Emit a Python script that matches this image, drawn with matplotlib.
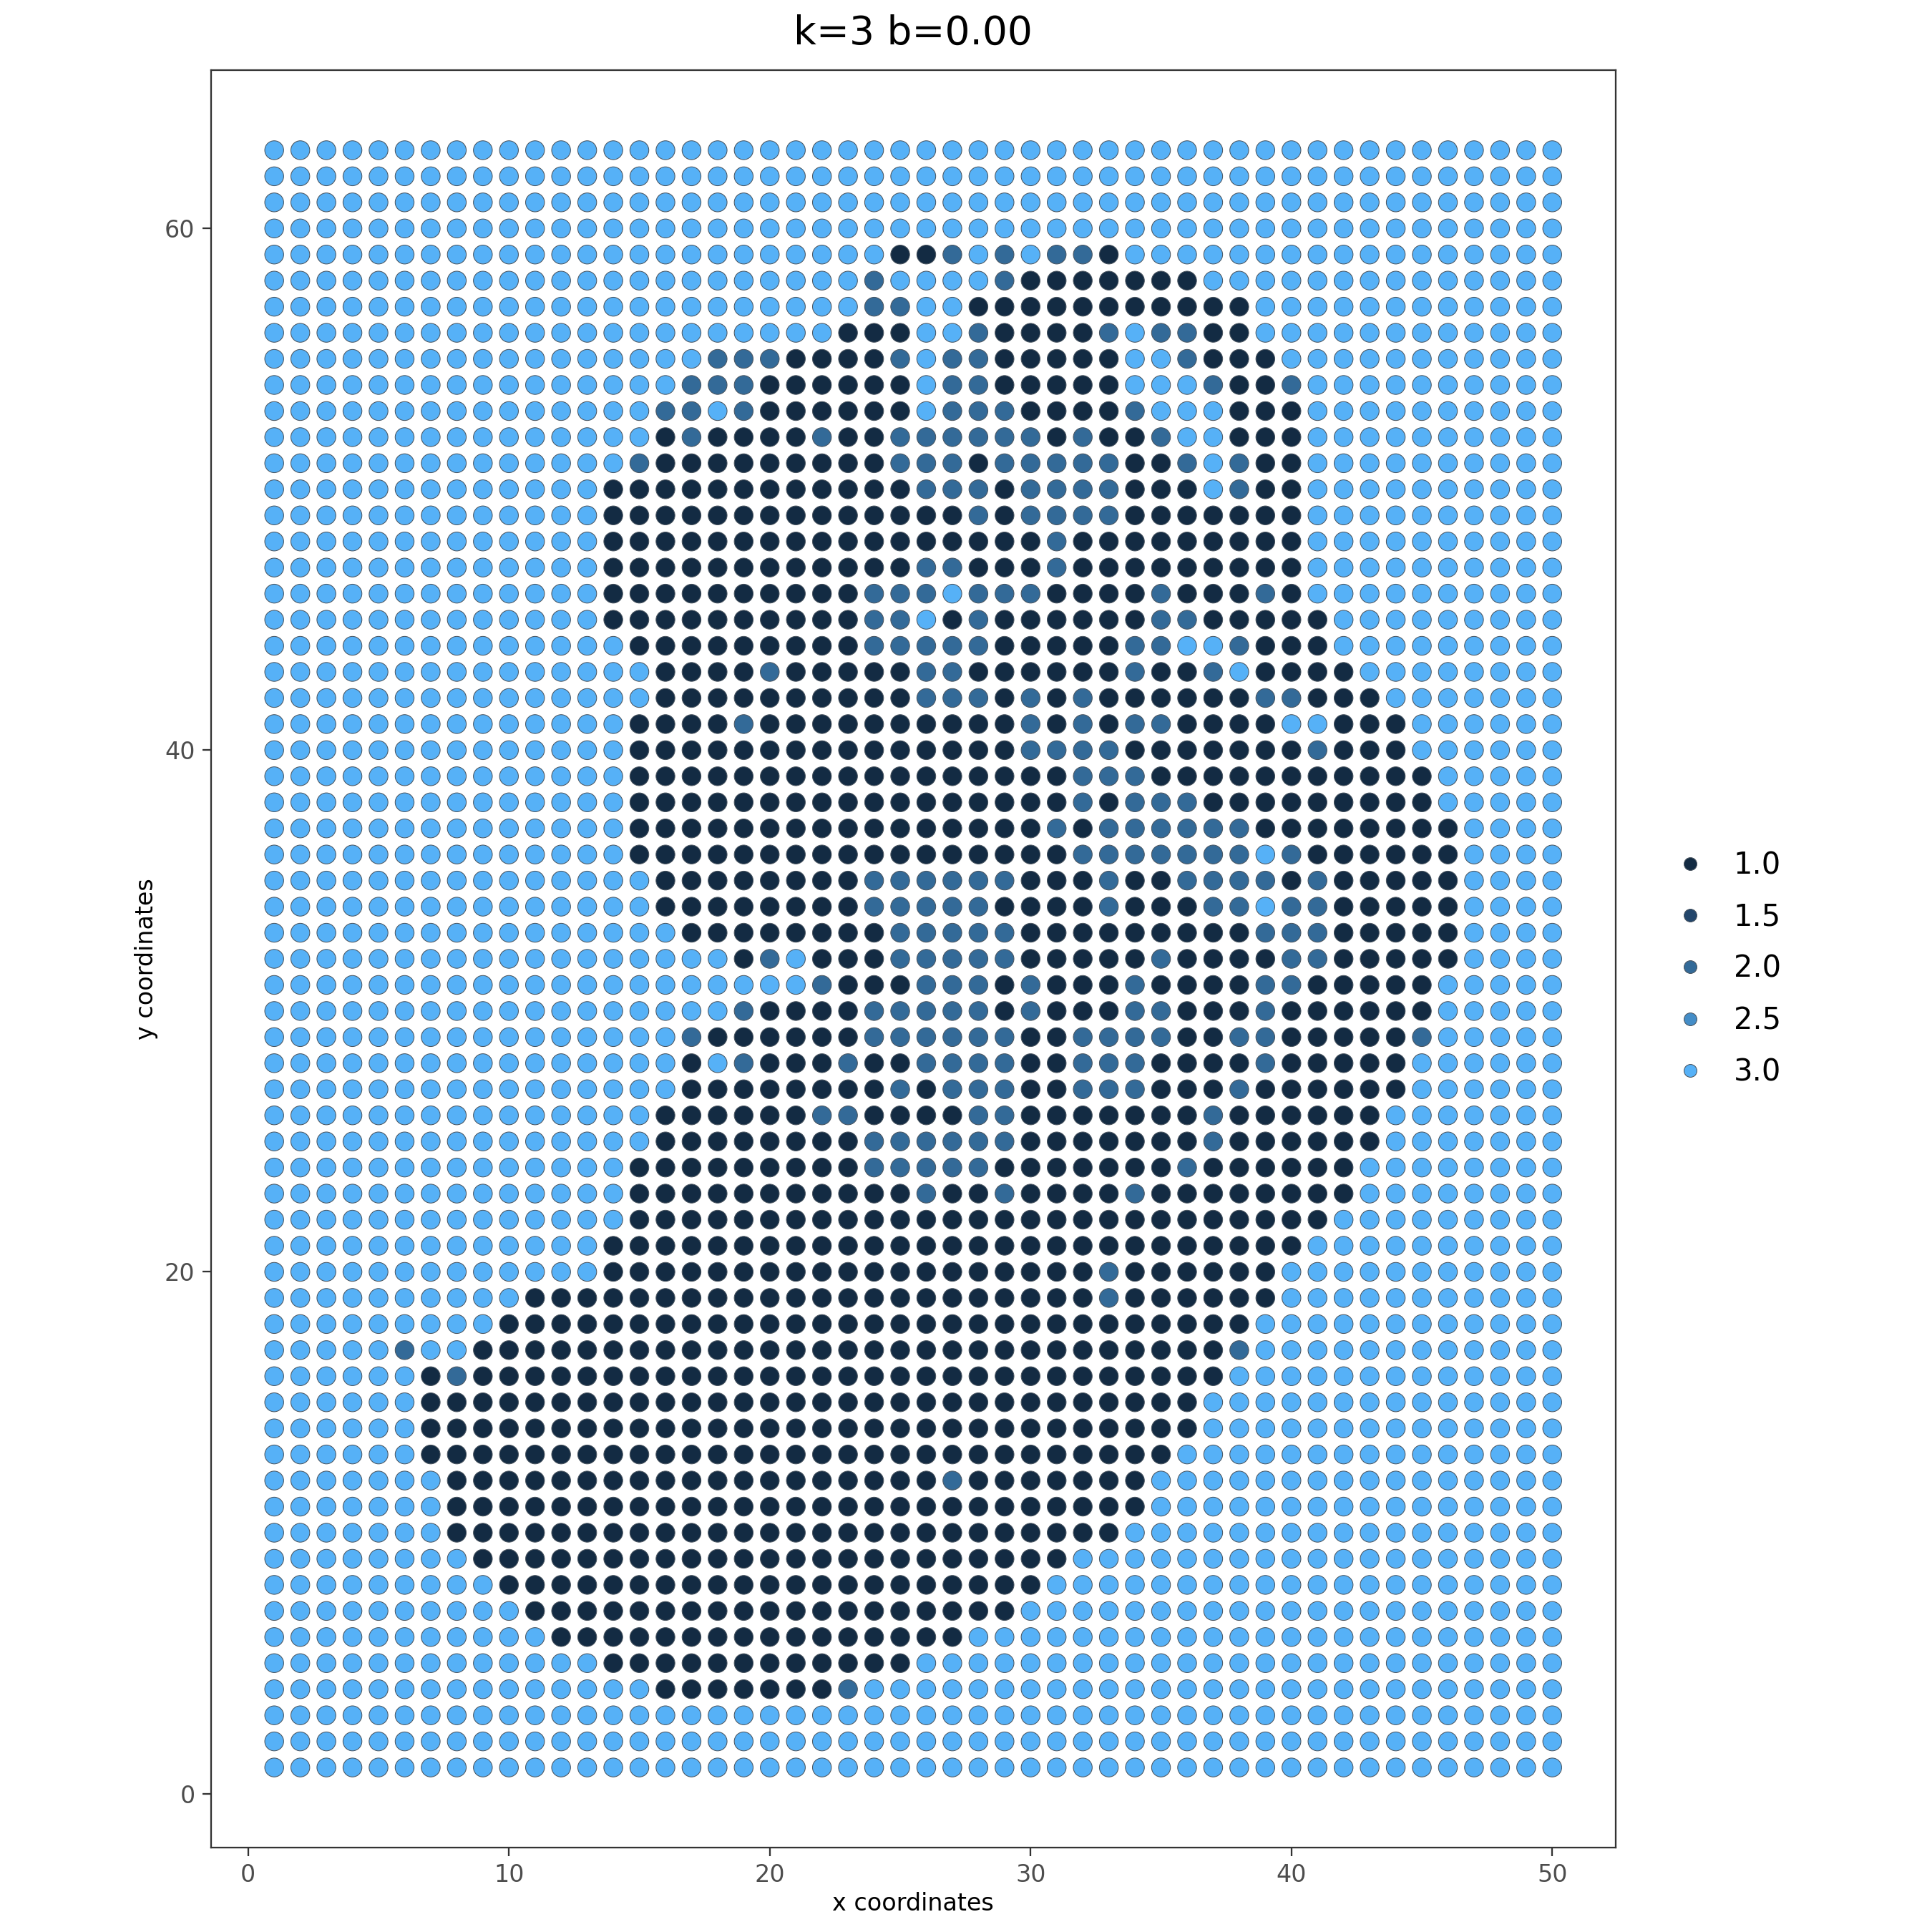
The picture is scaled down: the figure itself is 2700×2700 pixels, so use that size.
import numpy as np
import matplotlib
matplotlib.use('Agg')
import matplotlib.pyplot as plt
from matplotlib.colors import LinearSegmentedColormap
from matplotlib.lines import Line2D

# cluster label per spot, one string per row, y=63 at the top, x=1..50 left to right
o = '3333333333'
i = '1111111111'
rows_text = [
    f'{o} {o} {o} {o} {o}',  # 63
    f'{o} {o} {o} {o} {o}',
    f'{o} {o} {o} {o} {o}',
    f'{o} {o} {o} {o} {o}',  # 60
    f'{o} {o} 3333112323 2213333333 {o}',
    f'{o} {o} 3332333321 1111113333 {o}',
    f'{o} {o} 3332233111 1111111133 {o}',
    f'{o} {o} 3311133211 1123221133 {o}',
    f'{o} 3333333222 1111232211 1113321113 {o}',  # 55
    f'{o} 3333332221 1111132211 1113332112 {o}',
    f'{o} 3333322321 1111132221 1112333111 {o}',
    f'{o} 3333312111 1211222222 1211233111 {o}',
    f'{o} 3333211111 1111222122 2221123211 {o}',
    f'{o} 3331111111 1111122212 2221113211 {o}',  # 50
    f'{o} 3331111111 1111111212 2221111111 {o}',
    f'{o} 3331111111 {i} 2111111111 {o}',
    f'{o} 3331111111 1111122111 2111111111 {o}',
    f'{o} 3331111111 1112223222 1111211121 {o}',
    f'{o} 3331111111 1112231211 1111221111 1333333333',  # 45
    f'{o} 3333111111 1112222211 1112233211 1333333333',
    f'{o} 3333311112 1111122111 1112112311 1133333333',
    f'{o} 3333311111 1111122212 1211111122 1113333333',
    f'{o} 3333111121 1111111112 1212211113 3111333333',
    f'{o} 3333111111 1111111112 2221111111 2111333333',  # 40
    f'{o} 3333111111 {i} 1222111111 1111133333',
    f'{o} 3333111111 {i} 1212221111 1111133333',
    f'{o} 3333111111 {i} 2122222211 1111113333',
    f'{o} 3333111111 {i} 1222222232 1111113333',
    f'{o} 3333311111 1112222221 1121122221 2111113333',  # 35
    f'{o} 3333311111 1112222211 1121112232 2111113333',
    f'{o} 3333331111 1111222221 1111111122 2111113333',
    f'{o} 3333333312 3111222221 1111211112 2111113333',
    f'{o} {o} 3211122212 1112111122 1111133333',
    f'{o} 3333333321 1112222212 1112211121 1111133333',  # 30
    f'{o} 3333332111 1112222221 1222211221 1111233333',
    f'{o} 3333331321 1121122221 1222111121 1111333333',
    f'{o} 3333331111 1111212221 1222111211 1111333333',
    f'{o} 3333311111 1221111221 1111112111 1113333333',
    f'{o} 3333311111 1112222221 1111112111 1113333333',  # 25
    f'{o} 3333111111 1112222211 1111121111 1133333333',
    f'{o} 3333111111 1111121121 1112111111 1133333333',
    f'{o} 3333111111 {i} {i} 1333333333',
    f'{o} 3331111111 {i} {i} {o}',
    f'{o} 3331111111 {i} 1121111113 {o}',  # 20
    f'{o} {i} {i} 1121111113 {o}',
    f'3333333331 {i} {i} 1111111133 {o}',
    f'3333323311 {i} {i} 1111111233 {o}',
    f'3333331211 {i} {i} 1111111333 {o}',
    f'3333331111 {i} {i} 1111113333 {o}',  # 15
    f'3333331111 {i} {i} 1111113333 {o}',
    f'3333331111 {i} {i} 1111133333 {o}',
    f'3333333111 {i} 1111112111 1111333333 {o}',
    f'3333333111 {i} {i} 1111333333 {o}',
    f'3333333111 {i} {i} 1113333333 {o}',  # 10
    f'3333333311 {i} {i} 1333333333 {o}',
    f'3333333331 {i} {i} {o} {o}',
    f'{o} {i} 1111111113 {o} {o}',
    f'{o} 3111111111 1111111333 {o} {o}',
    f'{o} 3331111111 1111133333 {o} {o}',  # 5
    f'{o} 3333311111 1123333333 {o} {o}',
    f'{o} {o} {o} {o} {o}',
    f'{o} {o} {o} {o} {o}',
    f'{o} {o} {o} {o} {o}',  # 1
]

legend_values = [1.0, 1.5, 2.0, 2.5, 3.0]
legend_colors = ['#132B43', '#23466B', '#336A98', '#448DC7', '#56B1F7']
x_ticks = [0, 10, 20, 30, 40, 50]
y_ticks = [0, 20, 40, 60]

grid = np.array([[int(c) for c in r.replace(' ', '')] for r in rows_text])
nrow, ncol = grid.shape
xs, ys = np.meshgrid(np.arange(1, ncol + 1), np.arange(nrow, 0, -1))

cmap = LinearSegmentedColormap.from_list('clusters', legend_colors)

fig = plt.figure(figsize=(9, 9), dpi=300)
ax = fig.add_axes([295 / 2700, 118 / 2700, 1962.5 / 2700, 2484 / 2700])

edge = '#4a5560'
ax.scatter(xs.ravel(), ys.ravel(), c=grid.ravel(), cmap=cmap, vmin=1, vmax=3,
           s=40, edgecolors=edge, linewidths=0.25)

ax.set_xlim(-1.42, 52.42)
ax.set_ylim(-2.07, 66.07)
ax.set_xticks(x_ticks)
ax.set_yticks(y_ticks)
ax.tick_params(length=2.9, width=0.55, color='#333333', labelcolor='#4D4D4D',
               labelsize=8, pad=2.5)
for s in ax.spines.values():
    s.set_linewidth(0.55)
    s.set_color('#333333')

ax.set_xlabel('x coordinates', fontsize=8, labelpad=1.6)
ax.set_ylabel('y coordinates', fontsize=8, labelpad=2.2)
ax.set_title('k=3 b=0.00', fontsize=13.2, pad=8.6)

handles = [Line2D([], [], linestyle='none', marker='o', markersize=4.3,
                  markerfacecolor=c, markeredgecolor=edge, markeredgewidth=0.25)
           for c in legend_colors]
labels = [f'{v:.1f}' for v in legend_values]
ax.legend(handles, labels, loc='center left', bbox_to_anchor=(2320 / 2700, 1346 / 2700),
          bbox_transform=fig.transFigure, frameon=False, fontsize=10,
          labelspacing=0.725, handletextpad=0.46, borderpad=0, borderaxespad=0)

fig.savefig('out.png', dpi=300)
